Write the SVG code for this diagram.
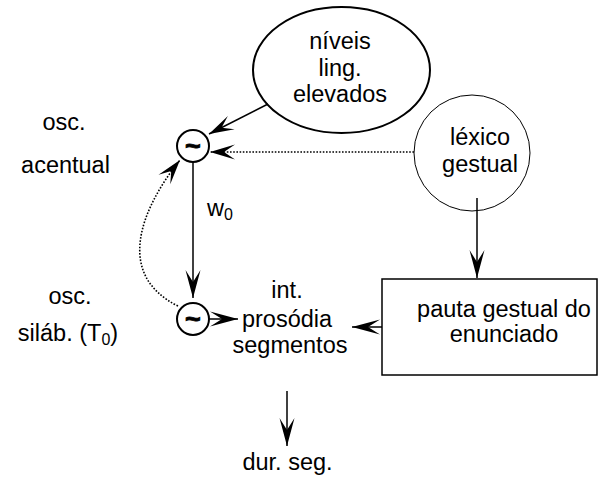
<svg xmlns="http://www.w3.org/2000/svg" width="598" height="478" viewBox="0 0 598 478">
<style>
text{font-family:"Liberation Sans",Arial,sans-serif;font-size:23.5px;fill:#000;text-anchor:middle}
.sub{font-size:16px}
.tl{font-size:27px;font-weight:bold;stroke:#000;stroke-width:0.8}
.ln{fill:none;stroke:#000;stroke-width:1.5}
.dot{fill:none;stroke:#000;stroke-width:1.6;stroke-dasharray:1.6,1.6}
</style>
<defs>
<marker id="ah" markerUnits="userSpaceOnUse" viewBox="-30 -9 32 18" refX="0" refY="0" markerWidth="32" markerHeight="18" orient="auto">
<path d="M0,0 L-28,-7.5 L-16,0 L-28,7.5 Z" fill="#000"/>
</marker>
<marker id="ahs" markerUnits="userSpaceOnUse" viewBox="-30 -9 32 18" refX="0" refY="0" markerWidth="32" markerHeight="18" orient="auto">
<path d="M0,0 L-25,-7.5 L-14,0 L-25,7.5 Z" fill="#000"/>
</marker>
</defs>
<rect width="598" height="478" fill="#fff"/>
<g id="connectors">
<line class="ln" x1="268" y1="104" x2="209" y2="134" marker-end="url(#ahs)"/>
<line class="dot" x1="414" y1="152" x2="210" y2="152" marker-end="url(#ahs)"/>
<line class="ln" x1="193" y1="162" x2="193" y2="298" marker-end="url(#ah)"/>
<path class="dot" d="M178,306 C115,275 140,210 180,160" marker-end="url(#ahs)"/>
<line class="ln" x1="206" y1="319" x2="238" y2="319" marker-end="url(#ah)"/>
<line class="ln" x1="477" y1="198" x2="477" y2="278" marker-end="url(#ah)"/>
<line class="ln" x1="382" y1="327" x2="352" y2="327" marker-end="url(#ah)"/>
<line class="ln" x1="287" y1="391" x2="287" y2="446" marker-end="url(#ah)"/>
</g>
<g id="niveis">
<ellipse cx="341.5" cy="70" rx="88.5" ry="63" fill="none" stroke="#000" stroke-width="2"/>
<text x="340" y="49">níveis</text>
<text x="340" y="76">ling.</text>
<text x="340" y="102">elevados</text>
</g>
<g id="lexico">
<circle cx="472" cy="153" r="58" fill="none" stroke="#000" stroke-width="1"/>
<text x="480" y="145">léxico</text>
<text x="480" y="172">gestual</text>
</g>
<g id="osc-acentual">
<circle cx="193" cy="146" r="16" fill="#fff" stroke="#000" stroke-width="2"/>
<text class="tl" x="193" y="155">~</text>
<text x="64" y="130">osc.</text>
<text x="65.5" y="173">acentual</text>
</g>
<g id="w0">
<text x="207" y="216" style="text-anchor:start">w<tspan class="sub" dy="4">0</tspan></text>
</g>
<g id="osc-silab">
<circle cx="193" cy="319" r="16" fill="#fff" stroke="#000" stroke-width="2"/>
<text class="tl" x="193" y="328">~</text>
<text x="70" y="304">osc.</text>
<text x="68" y="341">siláb. (T<tspan class="sub" dy="4">0</tspan><tspan dy="-4">)</tspan></text>
</g>
<g id="prosodia">
<text x="287" y="298">int.</text>
<text x="287" y="327">prosódia</text>
<text x="290" y="353">segmentos</text>
</g>
<g id="pauta">
<rect x="382" y="279" width="215" height="96" fill="none" stroke="#000" stroke-width="1.5"/>
<text x="504" y="317">pauta gestual do</text>
<text x="504" y="342">enunciado</text>
</g>
<g id="dur">
<text x="287.5" y="470">dur. seg.</text>
</g>
</svg>
